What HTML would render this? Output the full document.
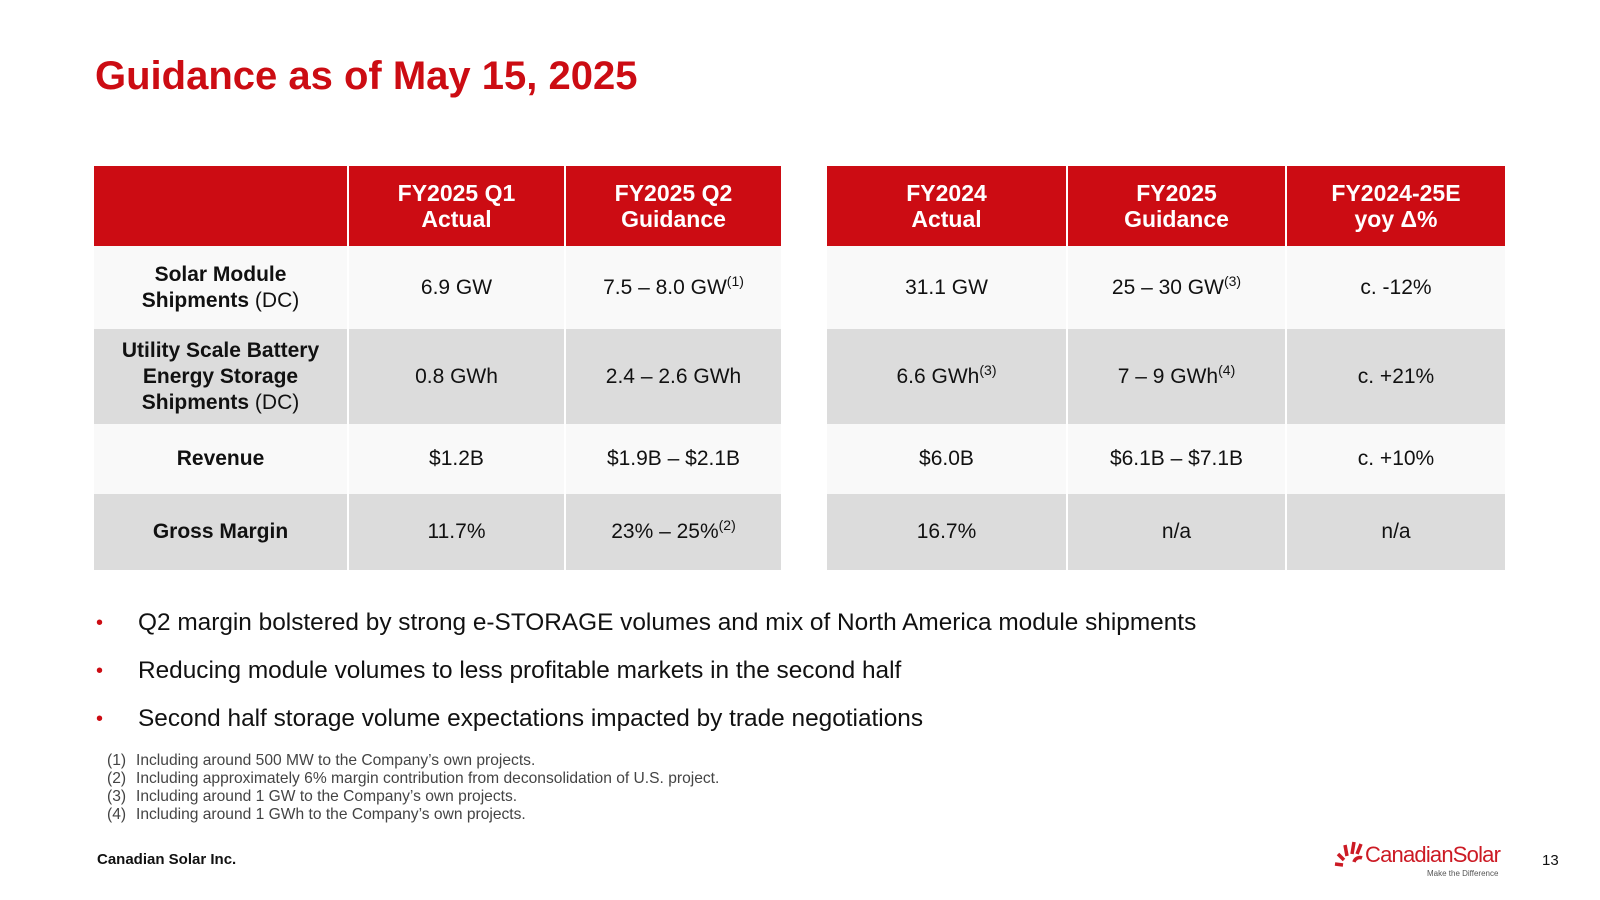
<!DOCTYPE html>
<html><head><meta charset="utf-8"><style>
body{margin:0;width:1600px;height:900px;background:#fff;position:relative;font-family:"Liberation Sans",sans-serif;overflow:hidden;color:#111}
.t{position:absolute}
table{position:absolute;border-collapse:collapse;top:166px;font-size:21px}
td,th{text-align:center;padding:0;border-right:2px solid #fff;line-height:26px}
th{background:#cc0c13;color:#fff;font-size:23px;height:80px;font-weight:bold}
tr.a td{background:#f9f9f9}
tr.b td{background:#dcdcdc}
sup{font-size:14px;vertical-align:8px;line-height:0}
.bul{position:absolute;left:138px;font-size:24.4px}
.bul:before{content:"•";color:#cc0c13;position:absolute;left:-42px;font-size:20px;top:3px}
.fn{position:absolute;left:107px;font-size:15.6px;color:#444}
.fn span{display:inline-block;width:29px}
</style></head><body>
<div class="t" style="left:95px;top:54px;font-size:40px;font-weight:bold;color:#cc0c13">Guidance as of May 15, 2025</div>

<table style="left:94px;width:689px">
<tr><th style="width:253px"></th><th style="width:215px">FY2025 Q1<br>Actual</th><th>FY2025 Q2<br>Guidance</th></tr>
<tr class="a" style="height:83px"><td><b>Solar Module<br>Shipments</b> (DC)</td><td>6.9 GW</td><td>7.5 – 8.0 GW<sup>(1)</sup></td></tr>
<tr class="b" style="height:95px"><td><b>Utility Scale Battery<br>Energy Storage<br>Shipments</b> (DC)</td><td>0.8 GWh</td><td>2.4 – 2.6 GWh</td></tr>
<tr class="a" style="height:70px"><td><b>Revenue</b></td><td>$1.2B</td><td>$1.9B – $2.1B</td></tr>
<tr class="b" style="height:76px"><td><b>Gross Margin</b></td><td>11.7%</td><td>23% – 25%<sup>(2)</sup></td></tr>
</table>

<table style="left:827px;width:678px">
<tr><th style="width:239px">FY2024<br>Actual</th><th style="width:217px">FY2025<br>Guidance</th><th style="border-right:0">FY2024-25E<br>yoy Δ%</th></tr>
<tr class="a" style="height:83px"><td>31.1 GW</td><td>25 – 30 GW<sup>(3)</sup></td><td style="border-right:0">c. -12%</td></tr>
<tr class="b" style="height:95px"><td>6.6 GWh<sup>(3)</sup></td><td>7 – 9 GWh<sup>(4)</sup></td><td style="border-right:0">c. +21%</td></tr>
<tr class="a" style="height:70px"><td>$6.0B</td><td>$6.1B – $7.1B</td><td style="border-right:0">c. +10%</td></tr>
<tr class="b" style="height:76px"><td>16.7%</td><td>n/a</td><td style="border-right:0">n/a</td></tr>
</table>

<div class="bul" style="top:609px">Q2 margin bolstered by strong e-STORAGE volumes and mix of North America module shipments</div>
<div class="bul" style="top:657px">Reducing module volumes to less profitable markets in the second half</div>
<div class="bul" style="top:705px">Second half storage volume expectations impacted by trade negotiations</div>

<div class="fn" style="top:752px"><span>(1)</span>Including around 500 MW to the Company’s own projects.</div>
<div class="fn" style="top:770px"><span>(2)</span>Including approximately 6% margin contribution from deconsolidation of U.S. project.</div>
<div class="fn" style="top:788px"><span>(3)</span>Including around 1 GW to the Company’s own projects.</div>
<div class="fn" style="top:806px"><span>(4)</span>Including around 1 GWh to the Company’s own projects.</div>

<div class="t" style="left:97px;top:851px;font-size:15px;font-weight:bold">Canadian Solar Inc.</div>
<div class="t" style="left:1334px;top:840px;width:172px;height:44px">
<svg width="30" height="30" style="position:absolute;left:0;top:0" viewBox="0 0 30 30"><g stroke="#cc1a24" stroke-width="3.5" fill="none"><path d="M20 22a6 6 0 0 1 8-4"/><line x1="18" y1="14" x2="20" y2="2"/><line x1="13" y1="16" x2="11" y2="5"/><line x1="10" y1="20" x2="4" y2="14"/><line x1="9" y1="25" x2="1" y2="24"/><line x1="23" y1="14" x2="27" y2="4"/></g></svg>
<div style="position:absolute;left:31px;top:2px;font-size:22px;color:#cc1a24;letter-spacing:-0.8px">CanadianSolar</div>
<div style="position:absolute;left:93px;top:29px;font-size:8px;color:#555">Make the Difference</div>
</div>
<div class="t" style="left:1542px;top:852px;font-size:15px">13</div>
</body></html>
